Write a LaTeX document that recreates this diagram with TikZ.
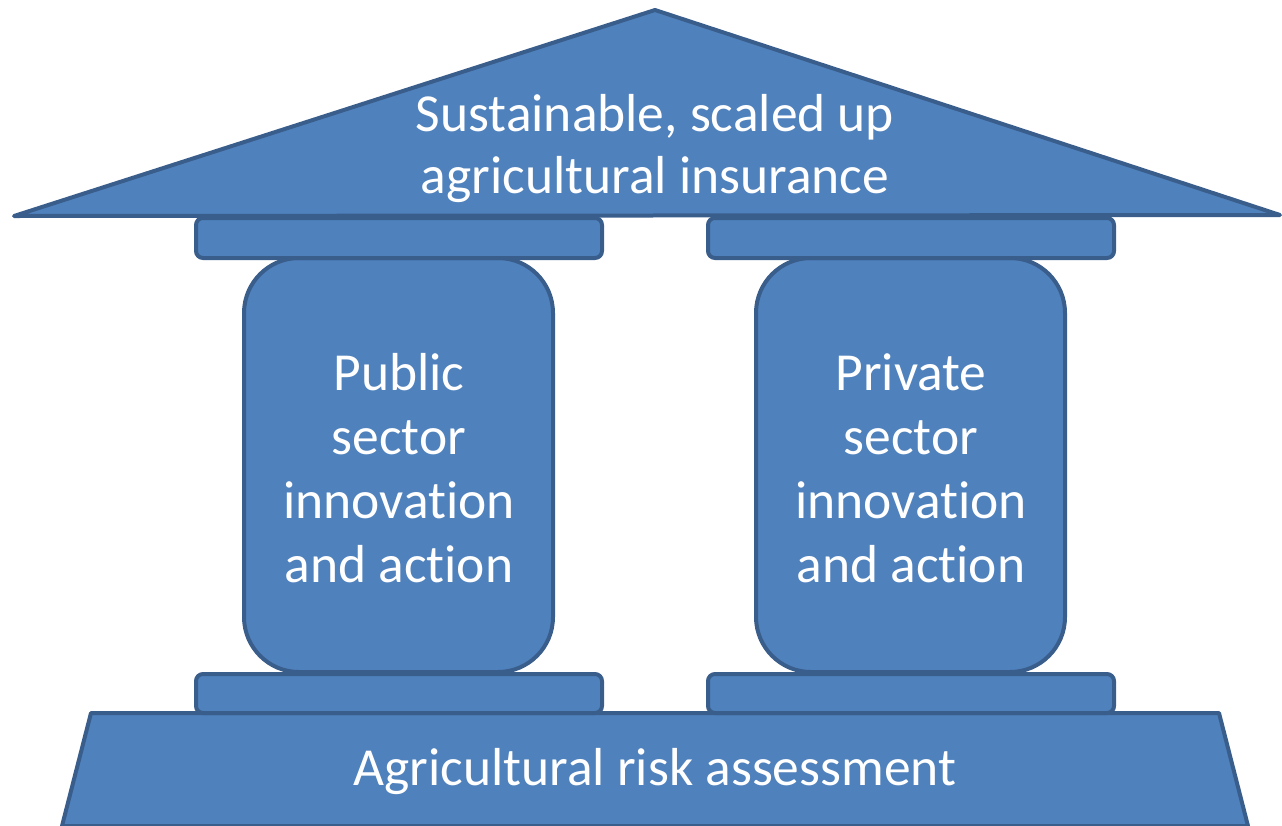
\documentclass[tikz,border=0pt]{standalone}
\usepackage{fontspec}
\setmainfont[Ligatures=NoCommon]{Carlito}
\definecolor{fillblue}{HTML}{4F81BD}
\definecolor{lineblue}{HTML}{3A5E8C}
\begin{document}
\begin{tikzpicture}[x=1pt,y=-1pt,
  part/.style={fill=fillblue,draw=lineblue,line width=4pt,line join=round},
  capbox/.style={part,rounded corners=7pt},
  pillar/.style={part,rounded corners=55pt},
  lbl/.style={text=white,align=center,font=\fontsize{53.5}{64}\selectfont,inner sep=0pt}]
\useasboundingbox (0,0) rectangle (1282,825);
% roof
\coordinate (apex) at (655,10);
\coordinate (roofL) at (14,216);
\coordinate (roofR) at (1280,215);
\path[part] (roofL) -- (apex) -- (roofR) -- cycle;
% pillars
\path[pillar] (244,258) rectangle (553,672);
\path[pillar] (756,258) rectangle (1065,672);
% top capitals
\path[capbox] (196,218) rectangle (602,258);
\path[capbox] (708,218) rectangle (1114,258);
% base
\path[part] (91,713) -- (1219,713) -- (1248,826) -- (62,826) -- cycle;
% bottom capitals
\path[capbox] (196,674) rectangle (602,713);
\path[capbox] (708,674) rectangle (1114,713);
% labels
\node[lbl,font=\fontsize{53.5}{62}\selectfont] (rooftext) at (655,149) {Sustainable, scaled up\\agricultural insurance};
\node[lbl] (pubtext) at (399,468) {Public\\sector\\innovation\\and action};
\node[lbl] (privtext) at (911,468) {Private\\sector\\innovation\\and action};
\node[lbl] (basetext) at (655,772) {Agricultural risk assessment};
\end{tikzpicture}
\end{document}
